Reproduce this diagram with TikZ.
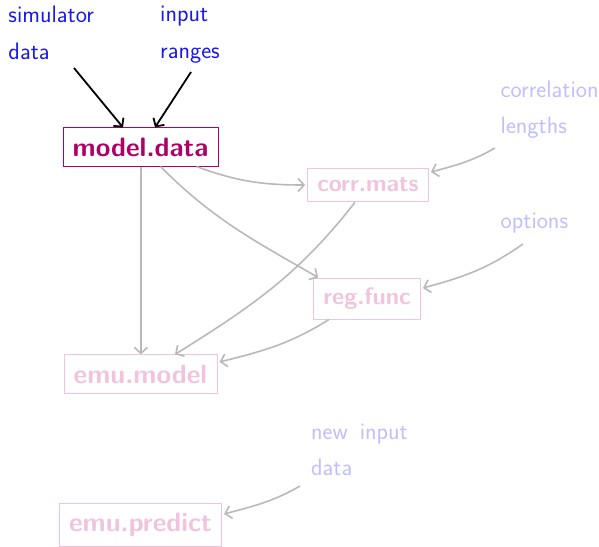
\documentclass[tikz,border=0pt]{standalone}
\usepackage{fontspec}
\usetikzlibrary{arrows.meta}

\definecolor{lblblue}{RGB}{25,25,235}
\definecolor{paleblue}{RGB}{191,191,255}
\definecolor{hotmag}{RGB}{175,0,105}
\definecolor{palemag}{RGB}{240,195,222}
\definecolor{arrowgray}{RGB}{185,185,185}

\tikzset{
  every node/.style={font=\sffamily},
  boxbase/.style={draw, line width=0.9pt, inner sep=9.75pt, fill=white},
  hotbox/.style={boxbase, draw=hotmag, text=hotmag,
    font=\sffamily\bfseries\fontsize{26.6}{30}\selectfont},
  palebox/.style={boxbase, draw=palemag, text=palemag,
    font=\sffamily\bfseries\fontsize{26.6}{30}\selectfont},
  palesmall/.style={palebox, font=\sffamily\bfseries\fontsize{23.7}{28}\selectfont},
  % two-line labels: the base anchor sits on the last line
  inlabel/.style={anchor=base west, inner sep=0pt, align=left,
    font=\sffamily\fontsize{23.8}{36.5}\selectfont},
  blackarrow/.style={line width=1.8pt, draw=black,
    -{Straight Barb[length=6pt,width=13pt]}},
  grayarrow/.style={line width=1.6pt, draw=arrowgray,
    -{Straight Barb[length=6pt,width=13pt]}},
}

\begin{document}
\begin{tikzpicture}[x=1pt,y=1pt]
  \useasboundingbox (0,0) rectangle (599,-546);

  % external inputs
  \node[inlabel, text=lblblue] (simlab) at (8.3,-59) {simulator\\data};
  \node[inlabel, text=lblblue] (inplab) at (160,-58.3) {input\\ranges};
  \node[inlabel, text=paleblue] (corlab) at (500.5,-133.5) {correlation\\lengths};
  \node[inlabel, text=paleblue] (optlab) at (500.5,-228.5) {options};
  \node[inlabel, text=paleblue] (newlab) at (311,-475.5) {new\hspace{0.5em}input\\data};

  % processing steps
  \node[hotbox]    (md) at (140.5,-147)   {model.data};
  \node[palesmall] (cm) at (368,-185)     {corr.mats};
  \node[palesmall] (rf) at (367,-298.5)   {reg.func};
  \node[palebox]   (em) at (140.5,-374)   {emu.model};
  \node[palebox]   (ep) at (140.5,-525)   {emu.predict};

  % free ends of the input arrows
  \coordinate (simend) at (74,-68);
  \coordinate (inpend) at (191,-72);
  \coordinate (corend) at (495,-148);
  \coordinate (optend) at (523,-244);
  \coordinate (newend) at (300,-486);

  % inputs into model.data
  \draw[blackarrow] (simend) -- ([xshift=-17.5pt]md.north);
  \draw[blackarrow] (inpend) -- ([xshift=14.5pt]md.north);

  % data flow between steps
  \draw[grayarrow] ([xshift=0.4pt]md.south) -- ([xshift=0.4pt]em.north);
  \draw[grayarrow] ([xshift=56pt]md.south) to[out=-20,in=180] ([xshift=-2pt]cm.west);
  \draw[grayarrow] ([xshift=20pt]md.south) to[out=-45,in=150] ([xshift=5pt]rf.north west);
  \draw[grayarrow] ([xshift=-13pt]cm.south) to[out=-128,in=32] ([xshift=34.5pt]em.north);
  \draw[grayarrow] ([xshift=-38pt]rf.south) to[out=-148,in=14] ([yshift=12pt,xshift=2pt]em.east);

  % side inputs
  \draw[grayarrow] (corend) to[out=-150,in=15] ([yshift=13pt,xshift=2pt]cm.east);
  \draw[grayarrow] (optend) to[out=-145,in=15] ([yshift=10.5pt,xshift=2pt]rf.east);
  \draw[grayarrow] (newend) to[out=-150,in=15] ([yshift=11pt,xshift=2pt]ep.east);
\end{tikzpicture}
\end{document}
